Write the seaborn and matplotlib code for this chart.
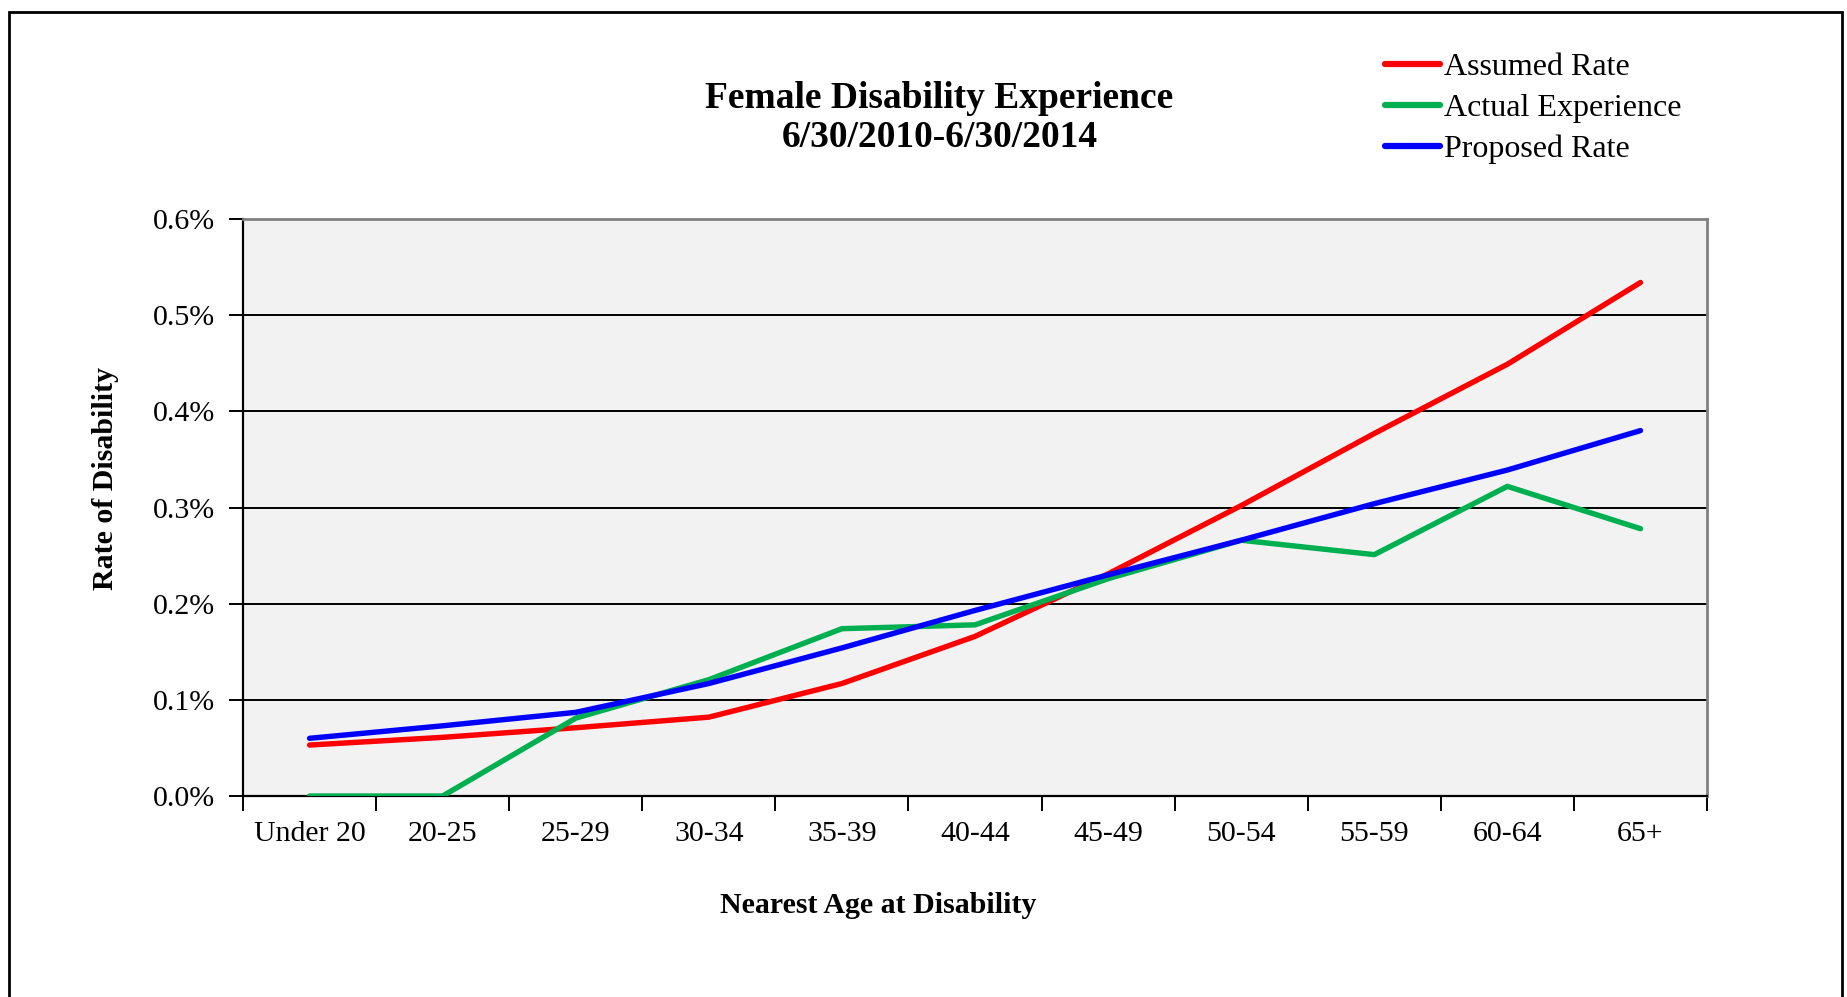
import numpy as np
import pandas as pd
import matplotlib
matplotlib.use("Agg")
import matplotlib.pyplot as plt
import seaborn as sns
from matplotlib.patches import Rectangle
from matplotlib.lines import Line2D
from matplotlib.ticker import FuncFormatter

age_groups = ["Under 20", "20-25", "25-29", "30-34", "35-39", "40-44",
              "45-49", "50-54", "55-59", "60-64", "65+"]
assumed_rate = [0.053, 0.061, 0.071, 0.082, 0.117, 0.166, 0.231, 0.302, 0.377, 0.449, 0.534]
actual_experience = [0.0, 0.0, 0.081, 0.121, 0.174, 0.178, 0.226, 0.266, 0.251, 0.322, 0.278]
proposed_rate = [0.060, 0.073, 0.087, 0.117, 0.154, 0.193, 0.230, 0.266, 0.304, 0.339, 0.380]

series_names = ["Assumed Rate", "Actual Experience", "Proposed Rate"]
series_colors = ["#FF0000", "#00B050", "#0000FF"]

pos = np.arange(len(age_groups))
df = pd.concat([
    pd.DataFrame({"pos": pos, "rate": vals, "series": name})
    for name, vals in zip(series_names, [assumed_rate, actual_experience, proposed_rate])
], ignore_index=True)

sns.set_style("white")
plt.rcParams["font.family"] = ["Liberation Serif", "DejaVu Serif"]
plt.rcParams["text.color"] = "black"
plt.rcParams["axes.labelcolor"] = "black"
plt.rcParams["xtick.color"] = "black"
plt.rcParams["ytick.color"] = "black"

fig = plt.figure(figsize=(18.47, 9.97), dpi=100)
fig.patch.set_facecolor("white")
ax = fig.add_axes([0.1316, 0.2016, 0.7926, 0.5787])
ax.set_facecolor("#F2F2F2")

# horizontal gridlines first so the series sit on top
yt = np.arange(0, 0.61, 0.1)
for v in yt[1:-1]:
    ax.axhline(v, color="#000000", lw=1.4, zorder=1)

sns.lineplot(data=df, x="pos", y="rate", hue="series", hue_order=series_names,
             palette=series_colors, linewidth=3.9, ax=ax, legend=False,
             zorder=3, solid_capstyle="round", solid_joinstyle="round")

ax.set_xlim(-0.5, len(age_groups) - 0.5)
ax.set_ylim(0, 0.6)
ax.set_yticks(yt)
ax.yaxis.set_major_formatter(FuncFormatter(lambda v, _: f"{v:.1f}%"))
ax.tick_params(axis="y", direction="out", length=10, width=1.4, color="black",
               labelsize=21.5, pad=10, left=True)

# category labels at centers, tick marks at category boundaries
ax.set_xticks(pos)
ax.set_xticklabels(age_groups)
ax.tick_params(axis="x", which="major", length=0, labelsize=21.5, pad=18)
ax.set_xticks(np.arange(-0.5, len(age_groups)), minor=True)
ax.tick_params(axis="x", which="minor", direction="out", length=11, width=1.4,
               color="black", bottom=True)

for side in ["left", "bottom"]:
    ax.spines[side].set_color("black")
    ax.spines[side].set_linewidth(1.6)
for side in ["top", "right"]:
    ax.spines[side].set_color("#808080")
    ax.spines[side].set_linewidth(2.0)

ax.set_xlabel("Nearest Age at Disability", fontsize=21.5, fontweight="bold")
ax.xaxis.set_label_coords(0.434, -0.166)
ax.set_ylabel("Rate of Disability", fontsize=21.5, fontweight="bold")
ax.yaxis.set_label_coords(-0.0845, 0.55)

fig.text(0.5087, 0.882, "Female Disability Experience\n6/30/2010-6/30/2014",
         ha="center", va="center", fontsize=27, fontweight="bold", linespacing=1.15)

handles = [Line2D([0], [0], color=c, lw=4.5, solid_capstyle="round") for c in series_colors]
fig.legend(handles, series_names, loc="upper left", bbox_to_anchor=(0.75, 0.947),
           frameon=False, fontsize=23, handlelength=1.7, handletextpad=0.15,
           labelspacing=0.36, borderpad=0, borderaxespad=0)

fig.add_artist(Rectangle((9 / 1847, -0.02), (1842 - 9) / 1847, 1.014 - 6 / 997,
                         transform=fig.transFigure, fill=False, edgecolor="black",
                         linewidth=2.0))

fig.savefig("out.png", dpi=100, facecolor="white")
